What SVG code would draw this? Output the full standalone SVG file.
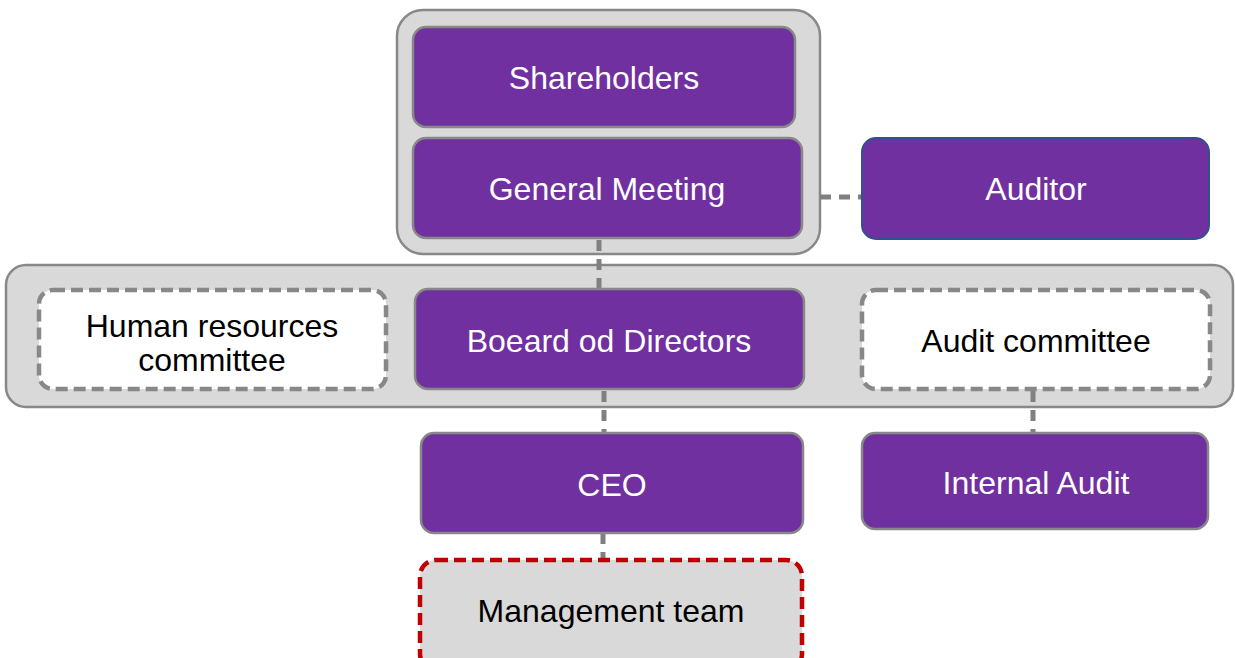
<svg xmlns="http://www.w3.org/2000/svg" width="1235" height="658" viewBox="0 0 1235 658">
<style>
.cont{fill:#d9d9d9;stroke:#888;stroke-width:2.5}
.p{fill:#7030a0;stroke:#888;stroke-width:2.5}
.w{fill:#fff;stroke:#888;stroke-width:4.5;stroke-dasharray:12 6}
.mt{fill:#d9d9d9;stroke:#c00000;stroke-width:4.5;stroke-dasharray:12 6}
.t{font-family:"Liberation Sans",Arial,sans-serif;font-size:32px;text-anchor:middle}
.tw{fill:#fff}
.tb{fill:#000}
.c{stroke:#808080;stroke-width:5;stroke-dasharray:11 8;fill:none}
</style>
<rect class="cont" x="397" y="10" width="423" height="244" rx="26"/>
<rect class="cont" x="6" y="265" width="1227" height="142" rx="20"/>
<g id="connectors">
<line class="c" x1="820" y1="197" x2="862" y2="197" stroke-dasharray="14 8"/>
<line class="c" x1="599" y1="240" x2="599" y2="289"/>
<line class="c" x1="604" y1="391" x2="604" y2="433" stroke-dasharray="10 8"/>
<line class="c" x1="603" y1="533" x2="603" y2="562" stroke-dasharray="10 6"/>
<line class="c" x1="1033" y1="391" x2="1033" y2="433" stroke-dasharray="14 4"/>
</g>
<g id="shareholders">
<rect class="p" x="413" y="27" width="382" height="100" rx="13"/>
<text class="t tw" x="604" y="89">Shareholders</text>
</g>
<g id="general-meeting">
<rect class="p" x="413" y="138" width="389" height="100" rx="13"/>
<text class="t tw" x="607" y="200">General Meeting</text>
</g>
<g id="auditor">
<rect x="862" y="138" width="347" height="101" rx="14" fill="#7030a0" stroke="#2f528f" stroke-width="2"/>
<text class="t tw" x="1036" y="200">Auditor</text>
</g>
<g id="hr-committee">
<rect class="w" x="39" y="290" width="347" height="99" rx="14"/>
<text class="t tb" x="212" y="337">Human resources</text>
<text class="t tb" x="212" y="371">committee</text>
</g>
<g id="board">
<rect class="p" x="415" y="289" width="389" height="100" rx="13"/>
<text class="t tw" x="609" y="352">Boeard od Directors</text>
</g>
<g id="audit-committee">
<rect class="w" x="862" y="290" width="348" height="99" rx="14"/>
<text class="t tb" x="1036" y="352">Audit committee</text>
</g>
<g id="ceo">
<rect class="p" x="421" y="433" width="382" height="100" rx="13"/>
<text class="t tw" x="612" y="496">CEO</text>
</g>
<g id="internal-audit">
<rect class="p" x="862" y="433" width="346" height="96" rx="13"/>
<text class="t tw" x="1036" y="494">Internal Audit</text>
</g>
<g id="management-team">
<rect class="mt" x="420" y="560" width="382" height="110" rx="16"/>
<text class="t tb" x="611" y="622">Management team</text>
</g>
</svg>
